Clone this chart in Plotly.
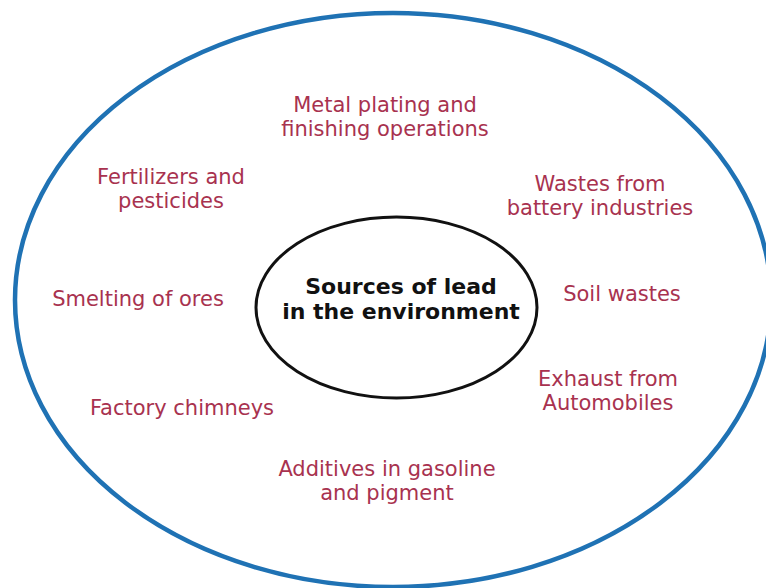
import plotly.graph_objects as go

# Content
center_label = "Sources of lead<br>in the environment"
source_labels = [
    "Metal plating and<br>finishing operations",
    "Fertilizers and<br>pesticides",
    "Wastes from<br>battery industries",
    "Smelting of ores",
    "Soil wastes",
    "Exhaust from<br>Automobiles",
    "Factory chimneys",
    "Additives in gasoline<br>and pigment",
]

# Layout (pixel-like coordinates, y downward)
label_x = [385, 171, 600, 138, 622, 608, 182, 387]
label_y = [119, 191, 198, 301, 296, 393, 410, 483]
center_xy = (401, 301)
outer_box = (15, 13, 771, 587)
inner_box = (256, 217, 537, 398)
LINE_GAP = 24
CENTER_GAP = 25

OFF = 8  # page body margin of the html page
W, H = 774 - OFF, 588 - OFF
fig = go.Figure()


def line_positions(text, x, y, gap):
    lines = text.split("<br>")
    n = len(lines)
    xs, ys = [], []
    for i in range(n):
        xs.append(x)
        ys.append(y + (i - (n - 1) / 2) * gap)
    return lines, xs, ys


tx, ty, tt = [], [], []
for lab, x, y in zip(source_labels, label_x, label_y):
    l, xs, ys = line_positions(lab, x, y, LINE_GAP)
    tt += l
    tx += xs
    ty += ys

fig.add_trace(go.Scatter(
    x=tx, y=ty, mode="text", text=tt,
    textfont=dict(family="DejaVu Sans", size=21, color="#a8324f"),
    hoverinfo="skip", showlegend=False,
))

cl, cx, cy = line_positions(center_label, center_xy[0], center_xy[1], CENTER_GAP)
fig.add_trace(go.Scatter(
    x=cx, y=cy, mode="text", text=cl,
    textfont=dict(family="DejaVu Sans", size=22, color="#111111", weight="bold"),
    hoverinfo="skip", showlegend=False,
))

fig.add_shape(type="circle", xref="x", yref="y",
              x0=outer_box[0], y0=outer_box[1], x1=outer_box[2], y1=outer_box[3],
              line=dict(color="#1f72b4", width=4.5), layer="below")
fig.add_shape(type="circle", xref="x", yref="y",
              x0=inner_box[0], y0=inner_box[1], x1=inner_box[2], y1=inner_box[3],
              line=dict(color="#111111", width=3), layer="below")

fig.update_layout(
    width=W, height=H,
    margin=dict(l=0, r=0, t=0, b=0),
    paper_bgcolor="white", plot_bgcolor="white",
    xaxis=dict(range=[OFF, W + OFF], visible=False, fixedrange=True),
    yaxis=dict(range=[H + OFF, OFF], visible=False, fixedrange=True),
)

fig.write_html("out.html")
